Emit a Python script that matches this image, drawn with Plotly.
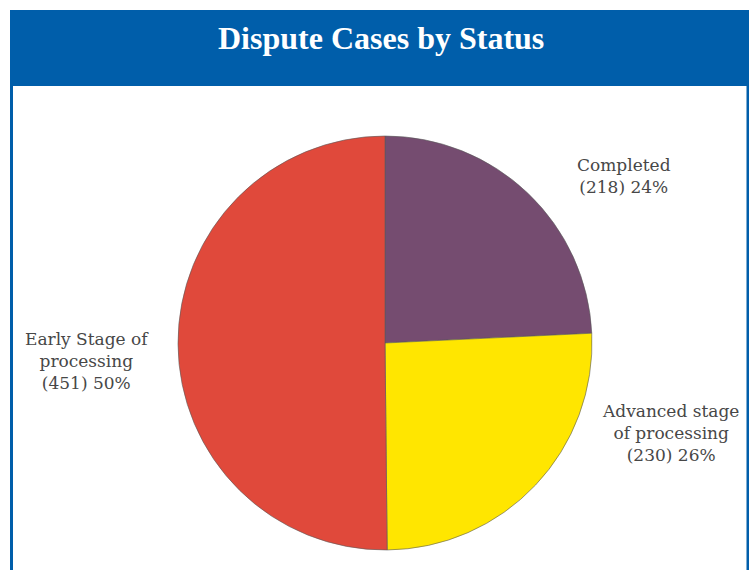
import plotly.graph_objects as go

# ---------------------------------------------------------------------------
# Data
# ---------------------------------------------------------------------------
statuses = ["Completed", "Advanced stage of processing", "Early Stage of processing"]
cases = [218, 230, 451]
percents = [24, 26, 50]
label_lines = [
    ["Completed"],
    ["Advanced stage", "of processing"],
    ["Early Stage of", "processing"],
]

# ---------------------------------------------------------------------------
# Style
# ---------------------------------------------------------------------------
W, H = 749, 570
BLUE = "#005eaa"
SLICE_COLORS = ["#754c70", "#ffe600", "#e0493b"]
TITLE_FONT = "Liberation Serif, Times New Roman, serif"
LABEL_FONT = "DejaVu Serif, serif"

# pie centre/radius in pixels (top-left origin)
cx, cy, r = 385, 343, 207

# label anchor positions in pixels (centre of text block)
label_pos = [(624, 176), (670, 433), (87, 361)]

fig = go.Figure(
    go.Pie(
        labels=statuses,
        values=cases,
        sort=False,
        direction="clockwise",
        rotation=0,
        textinfo="none",
        hoverinfo="label+value+percent",
        marker=dict(colors=SLICE_COLORS, line=dict(color="rgba(90,90,90,0.6)", width=1)),
        domain=dict(
            x=[(cx - r) / W, (cx + r) / W],
            y=[(H - cy - r) / H, (H - cy + r) / H],
        ),
        showlegend=False,
    )
)

annotations = []
for lines, n, pct, (px, py) in zip(label_lines, cases, percents, label_pos):
    text = "<br>".join(lines + [f"({n}) {pct}%"])
    annotations.append(dict(
        text=text,
        x=px / W, y=1 - py / H,
        xref="paper", yref="paper",
        xanchor="center", yanchor="middle",
        showarrow=False, align="center",
        font=dict(family=LABEL_FONT, size=17, color="#474747"),
    ))

# header title
annotations.append(dict(
    text="<b>Dispute Cases by Status</b>",
    x=381 / W, y=1 - 38 / H,
    xref="paper", yref="paper",
    xanchor="center", yanchor="middle",
    showarrow=False,
    font=dict(family=TITLE_FONT, size=32, color="white"),
))

shapes = [
    # header band
    dict(type="rect", xref="paper", yref="paper",
         x0=10 / W, x1=1.0, y0=1 - 86 / H, y1=1 - 10 / H,
         fillcolor=BLUE, line=dict(width=0), layer="below"),
    # left frame line
    dict(type="rect", xref="paper", yref="paper",
         x0=10 / W, x1=13 / W, y0=0, y1=1 - 86 / H,
         fillcolor=BLUE, line=dict(width=0)),
    # right frame line
    dict(type="rect", xref="paper", yref="paper",
         x0=746.5 / W, x1=1.0, y0=0, y1=1 - 86 / H,
         fillcolor=BLUE, line=dict(width=0)),
]

fig.update_layout(
    width=W, height=H,
    margin=dict(l=0, r=0, t=0, b=0),
    paper_bgcolor="white",
    plot_bgcolor="white",
    annotations=annotations,
    shapes=shapes,
)

# drop the default page margin so the figure fills the window exactly
fig.write_html(
    "out.html",
    config={"displayModeBar": False},
    post_script="document.body.style.margin='0';",
)
